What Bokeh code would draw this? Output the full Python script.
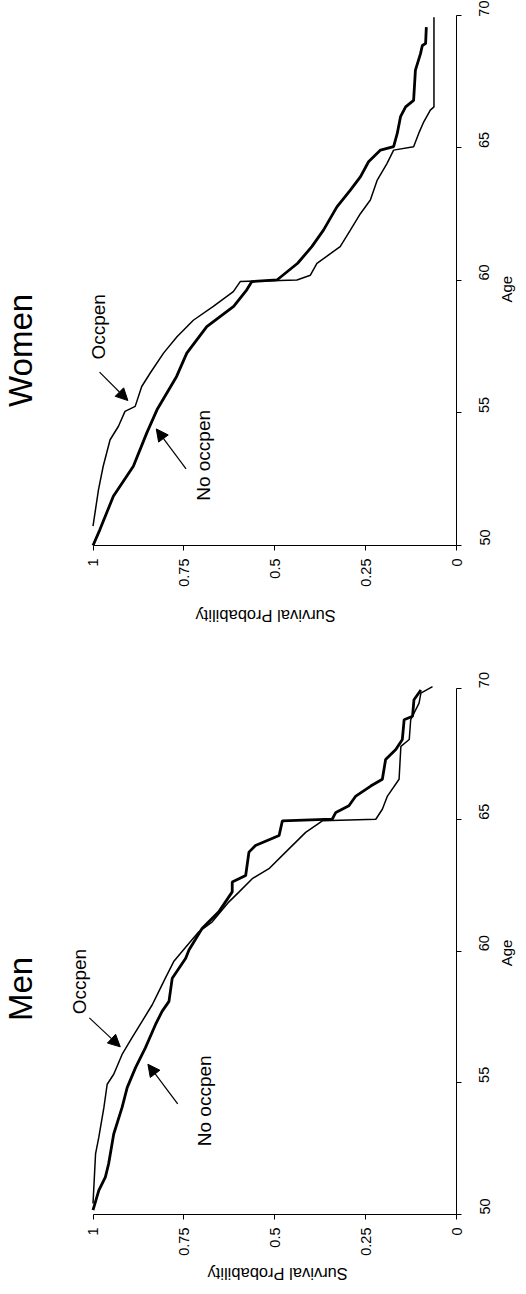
import math
from bokeh.plotting import figure
from bokeh.models import (Range1d, FixedTicker, NumeralTickFormatter, Label, Arrow, NormalHead,
                          LinearAxis, CustomJSTickFormatter)
from bokeh.layouts import column
from bokeh.embed import file_html
from bokeh.resources import INLINE

FONT = "Liberation Sans"

survival_ticks = [0, 0.25, 0.5, 0.75, 1]
age_ticks = [50, 55, 60, 65, 70]

# ---- Women ----
women_occ_age = [50.73, 52.1, 52.99, 53.99, 54.5, 55.06, 55.25, 56.0, 56.5, 57.26, 57.88, 58.5,
                 59.02, 59.58, 59.96, 60.02, 60.2, 60.65, 61.03, 61.28, 61.9, 62.53, 63.04, 63.79,
                 64.42, 64.92, 65.05, 65.55, 65.99, 66.43, 66.55, 69.93]
women_occ_surv = [1.0, 0.985, 0.972, 0.953, 0.930, 0.912, 0.884, 0.866, 0.843, 0.806, 0.769, 0.724,
                  0.669, 0.614, 0.595, 0.439, 0.402, 0.384, 0.345, 0.320, 0.292, 0.264, 0.237, 0.218,
                  0.191, 0.173, 0.118, 0.104, 0.090, 0.072, 0.062, 0.062]
women_no_age = [50.0, 50.6, 51.86, 52.99, 54.25, 55.12, 56.38, 57.26, 58.26, 59.02, 59.65, 59.96,
                60.02, 60.65, 61.28, 61.9, 62.78, 63.41, 63.92, 64.48, 64.92, 65.05, 65.55, 66.18,
                66.55, 66.8, 67.94, 68.56, 68.87, 68.94, 69.56]
women_no_surv = [1.0, 0.981, 0.944, 0.889, 0.852, 0.824, 0.770, 0.742, 0.687, 0.613, 0.577, 0.563,
                 0.494, 0.437, 0.398, 0.366, 0.329, 0.292, 0.264, 0.242, 0.209, 0.173, 0.163, 0.154,
                 0.140, 0.118, 0.113, 0.099, 0.094, 0.085, 0.083]

# ---- Men ----
men_occ_age = [50.42, 52.3, 52.94, 54.07, 54.95, 55.33, 56.08, 56.71, 57.34, 57.97, 58.22, 58.98,
               59.61, 59.99, 60.74, 61.12, 61.88, 62.26, 62.76, 63.14, 63.77, 64.52, 64.96, 65.02,
               65.4, 65.9, 66.54, 67.79, 68.05, 68.8, 69.43, 69.81, 70.06]
men_occ_surv = [1.0, 0.993, 0.984, 0.970, 0.961, 0.943, 0.920, 0.893, 0.865, 0.837, 0.828, 0.801,
                0.778, 0.755, 0.709, 0.672, 0.626, 0.598, 0.562, 0.516, 0.470, 0.415, 0.369, 0.222,
                0.204, 0.190, 0.158, 0.153, 0.130, 0.126, 0.103, 0.098, 0.066]
men_no_age = [50.17, 50.92, 51.42, 51.93, 53.06, 54.07, 54.82, 55.58, 56.33, 57.22, 57.72, 58.1,
              58.98, 59.74, 60.05, 60.87, 61.5, 62.26, 62.63, 62.88, 63.77, 64.02, 64.4, 64.96,
              65.02, 65.28, 65.53, 65.9, 66.28, 66.54, 67.29, 67.67, 68.05, 68.8, 68.93, 69.56, 69.93]
men_no_surv = [1.0, 0.984, 0.966, 0.957, 0.943, 0.920, 0.906, 0.883, 0.856, 0.828, 0.810, 0.791,
               0.782, 0.745, 0.736, 0.700, 0.654, 0.617, 0.617, 0.580, 0.571, 0.553, 0.488, 0.479,
               0.342, 0.332, 0.296, 0.277, 0.236, 0.204, 0.195, 0.167, 0.149, 0.144, 0.121, 0.117, 0.098]


def style_axis(ax, size):
    ax.major_tick_in = 0
    ax.minor_tick_in = 0
    ax.minor_tick_out = 0
    ax.axis_line_color = "black"
    ax.major_tick_line_color = "black"
    ax.major_label_text_font = FONT
    ax.major_label_text_font_size = size
    ax.major_label_text_color = "black"


def title_axis(text, tick, size, orientation, standoff):
    # an axis that only carries one text, used as the axis title
    ax = LinearAxis(ticker=FixedTicker(ticks=[tick]),
                    formatter=CustomJSTickFormatter(code="return %r;" % text))
    style_axis(ax, size)
    ax.major_tick_out = 0
    ax.axis_line_color = None
    ax.major_tick_line_color = None
    ax.major_label_orientation = orientation
    ax.major_label_standoff = standoff
    return ax


def make_panel(title, occ_age, occ_surv, no_age, no_surv, height, y_top,
               bottom_border, lay):
    p = figure(width=526, height=height,
               x_range=Range1d(1.2545, 0), y_range=Range1d(50, y_top),
               output_backend="svg", toolbar_location=None, y_axis_location="right",
               min_border_left=0, min_border_top=0, min_border_right=70,
               min_border_bottom=bottom_border)
    p.outline_line_color = None
    p.grid.visible = False
    p.background_fill_color = "white"
    p.border_fill_color = "white"

    for ax in (p.xaxis[0], p.yaxis[0]):
        style_axis(ax, "14.5px")
        ax.major_tick_out = 5
        ax.major_label_orientation = math.pi / 2

    p.xaxis.ticker = FixedTicker(ticks=survival_ticks)
    p.xaxis.formatter = NumeralTickFormatter(format="0.[00]")
    p.xaxis.bounds = (0, 1)
    p.xaxis.major_label_standoff = 8

    p.yaxis.ticker = FixedTicker(ticks=age_ticks)
    p.yaxis.bounds = (50, 70)
    p.yaxis.major_label_standoff = 23

    p.add_layout(title_axis("Age", lay["age_tick"], "15px", math.pi / 2, 9), "right")
    p.add_layout(title_axis("Survival Probability", lay["surv_tick"], "16.5px", math.pi,
                            lay["surv_standoff"]), "below")

    p.line(occ_surv, occ_age, line_color="black", line_width=1.5)
    p.line(no_surv, no_age, line_color="black", line_width=2.8)

    def txt(text, pos, size, angle=math.pi / 2):
        p.add_layout(Label(x=pos[0], y=pos[1], text=text, angle=angle,
                           text_font=FONT, text_font_size=size, text_color="black",
                           text_align="center", text_baseline="middle"))

    txt(title, lay["title"], "33px")
    txt("Occpen", lay["occ"], "19px")
    txt("No occpen", lay["no"], "19px")

    for (xs, ys), (xe, ye) in (lay["occ_arrow"], lay["no_arrow"]):
        p.add_layout(Arrow(end=NormalHead(size=12, fill_color="black", line_color="black"),
                           x_start=xs, y_start=ys, x_end=xe, y_end=ye,
                           line_color="black", line_width=1.2))
    return p


women_layout = {
    "title": (1.1995, 57.36),
    "occ": (0.985, 58.25),
    "no": (0.695, 53.40),
    "occ_arrow": ((0.982, 56.54), (0.904, 55.47)),
    "no_arrow": ((0.744, 52.89), (0.826, 54.40)),
    "age_tick": 59.17,
    "surv_tick": 0.718,
    "surv_standoff": 26,
}
men_layout = {
    "title": (1.1995, 58.57),
    "occ": (1.037, 58.85),
    "no": (0.693, 54.32),
    "occ_arrow": ((1.010, 57.47), (0.925, 56.37)),
    "no_arrow": ((0.767, 54.20), (0.849, 55.71)),
    "age_tick": 59.43,
    "surv_tick": 0.685,
    "surv_standoff": 15,
}

p_women = make_panel("Women", women_occ_age, women_occ_surv, women_no_age, women_no_surv,
                     638, 70.566, 93, women_layout)
p_men = make_panel("Men", men_occ_age, men_occ_surv, men_no_age, men_no_surv,
                   656, 71.887, 76, men_layout)

layout = column(p_women, p_men, spacing=0)
open("out.html", "w").write(file_html(layout, INLINE))
